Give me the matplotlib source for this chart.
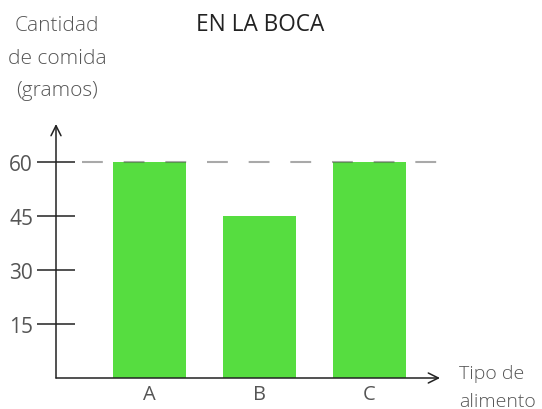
import matplotlib.pyplot as plt

# data
categorias = ['A', 'B', 'C']
gramos = [60, 45, 60]
y_ticks = [15, 30, 45, 60]
nivel_ref = 60

plt.rcParams['font.family'] = ['Open Sans', 'DejaVu Sans']

fig = plt.figure(figsize=(5.42, 4.10), dpi=100)
ax = fig.add_axes([56 / 542, 31 / 410, 384 / 542, 254 / 410])

x = range(len(categorias))
ax.bar(x, gramos, width=0.66, color='#56dd40', zorder=2)
ax.axhline(nivel_ref, xmin=26 / 384, xmax=1, color='#555555', alpha=0.5,
           lw=1.5, dashes=(10, 10), zorder=3)

ax.set_xlim(-0.85, 2.64)
ax.set_ylim(0, 70.5)

for s in ax.spines.values():
    s.set_visible(False)

# axes with open arrow heads
arrow = dict(arrowstyle='->', lw=1.1, color='#222222', mutation_scale=18,
             shrinkA=0, shrinkB=0)
ax.annotate('', xy=(1, 0), xytext=(0, 0), xycoords='axes fraction', arrowprops=arrow)
ax.annotate('', xy=(0, 1), xytext=(0, 0), xycoords='axes fraction', arrowprops=arrow)

ax.set_xticks(list(x))
ax.set_xticklabels(categorias)
ax.set_yticks(y_ticks)
ax.tick_params(axis='x', length=0, pad=4, labelsize=14.5, labelcolor='#555555')
ax.tick_params(axis='y', direction='inout', length=27, width=1.1, color='#222222',
               pad=3, labelsize=15, labelcolor='#555555')

fig.text(260 / 542, 1 - 25 / 410, 'EN LA BOCA', ha='center', va='center',
         fontsize=16.3, color='#222222')
fig.text(57 / 542, 1 - 58.5 / 410, 'Cantidad\nde comida\n(gramos)', ha='center',
         va='center', fontsize=15, color='#555555', linespacing=1.82,
         fontweight='light')
fig.text(459 / 542, 1 - 388 / 410, 'Tipo de\nalimento', ha='left', va='center',
         fontsize=14, color='#555555', linespacing=1.72, fontweight='light')

fig.savefig('out.png', dpi=100)
